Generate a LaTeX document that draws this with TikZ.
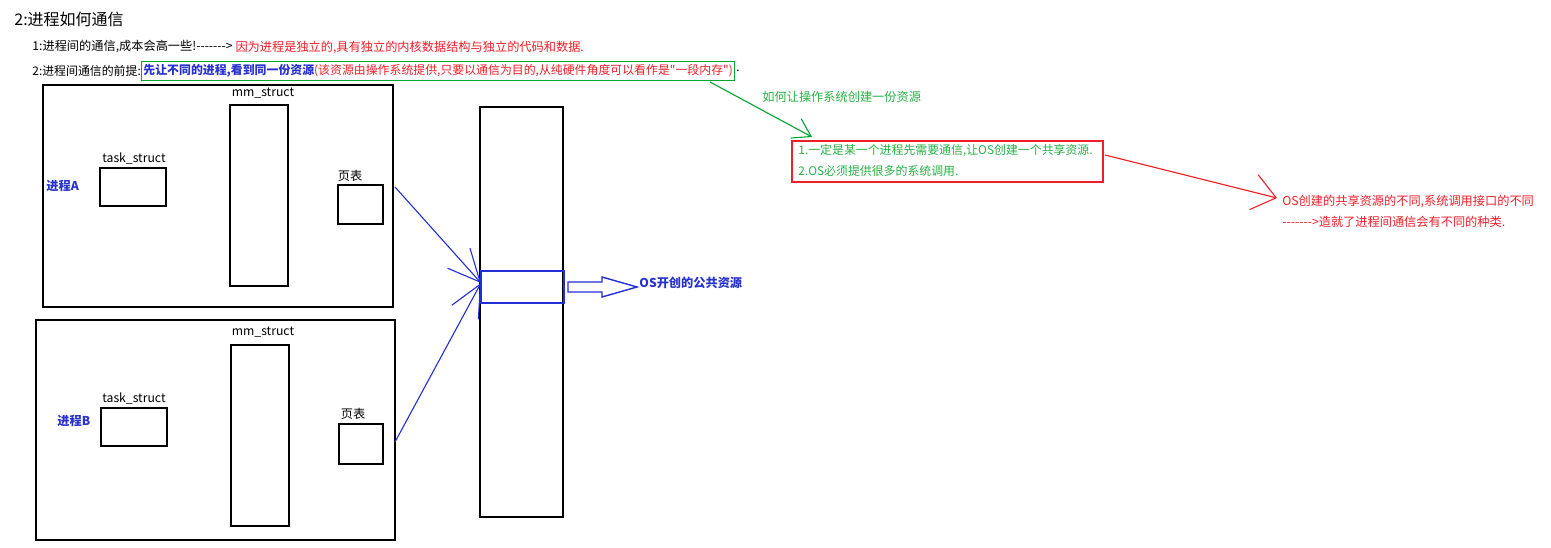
\documentclass[tikz,border=0pt]{standalone}
\usepackage{fontspec}
\newfontfamily\cjk{Noto Sans CJK SC}
\usetikzlibrary{arrows.meta}
\definecolor{pblue}{RGB}{40,50,205}
\definecolor{lblue}{RGB}{35,45,215}
\definecolor{pred}{RGB}{240,30,40}
\definecolor{pgreen}{RGB}{0,165,50}
\definecolor{tgreen}{RGB}{40,175,70}
\begin{document}
\begin{tikzpicture}[x=0.5pt,y=-0.5pt,
  rbox/.style={draw=black, line width=0.6pt, inner sep=0pt},
  txt/.style={inner sep=0pt, font=\cjk\fontsize{6.1pt}{7pt}\selectfont},
  ltxt/.style={txt, anchor=west},
  stxt/.style={ltxt, font=\cjk\fontsize{5.95pt}{7pt}\selectfont},
  bluebold/.style={ltxt, text=pblue, font=\cjk\bfseries\fontsize{6.1pt}{7pt}\selectfont},
  bluearr/.style={draw=lblue, line width=0.55pt, -{Straight Barb[length=16pt,width=15pt]}}
]
\useasboundingbox (0,0) rectangle (1551,547);
% title and text lines
\node[ltxt, font=\cjk\fontsize{8pt}{9pt}\selectfont] (title) at (14,19) {2:进程如何通信};
\node[ltxt] (l1) at (32,47) {1:进程间的通信,成本会高一些!------->};
\node[ltxt, text=pred] (l1r) at ([xshift=1pt]l1.east) {因为进程是独立的,具有独立的内核数据结构与独立的代码和数据.};
\node[stxt] (l2) at (32,71) {2:进程间通信的前提:};
\node[stxt, draw=pgreen, line width=0.6pt, inner xsep=0.8pt, minimum height=9.5pt] (gbox) at (l2.east)
  {{\bfseries\color{pblue}先让不同的进程,看到同一份资源}\textcolor{pred}{(该资源由操作系统提供,只要以通信为目的,从纯硬件角度可以看作是"一段内存")}};
\node[stxt] (dot) at ([xshift=0.5pt]gbox.east) {.};

% process A
\node[rbox, minimum width=175pt, minimum height=111pt] (pA) at (218,196) {};
\node[rbox, minimum width=29pt, minimum height=90.5pt] (mmA) at (259,195.5) {};
\node[txt] (mmAl) at (263,93) {mm\_struct};
\node[rbox, minimum width=33pt, minimum height=19pt] (tkA) at (133,187) {};
\node[txt] (tkAl) at (134,158) {task\_struct};
\node[rbox, minimum width=22.5pt, minimum height=19.5pt] (pgA) at (360.5,204.5) {};
\node[txt] (pgAl) at (350,176) {页表};
\node[bluebold] (nA) at (46,186) {进程A};

% process B
\node[rbox, minimum width=179.5pt, minimum height=110pt] (pB) at (215.5,430) {};
\node[rbox, minimum width=29pt, minimum height=90.5pt] (mmB) at (260,435.5) {};
\node[txt] (mmBl) at (263,332) {mm\_struct};
\node[rbox, minimum width=33pt, minimum height=19pt] (tkB) at (134,427) {};
\node[txt] (tkBl) at (134,398) {task\_struct};
\node[rbox, minimum width=22pt, minimum height=20pt] (pgB) at (361,444) {};
\node[txt] (pgBl) at (353,414) {页表};
\node[bluebold] (nB) at (57,421) {进程B};

% memory column
\node[rbox, minimum width=41.5pt, minimum height=205pt] (mem) at (521.5,312) {};
\node[draw=lblue, line width=0.6pt, inner sep=0pt, minimum width=41.5pt, minimum height=16pt] (shm) at (522.5,287) {};
\coordinate (tip) at (481,283);
\coordinate (aA) at (395,187);
\coordinate (aB) at (395,442);
\draw[bluearr] (aA) -- (tip);
\draw[bluearr] (aB) -- (tip);

% hollow arrow
\coordinate (ha) at (568,287);
\draw[draw=lblue, line width=0.7pt] (ha) ++(0,-5) -- ++(34,0) -- ++(0,-5) -- ++(35,10) -- ++(-35,10) -- ++(0,-5) -- ++(-34,0) -- cycle;
\node[bluebold] (osl) at (639,283) {OS开创的公共资源};

% green arrow and label
\coordinate (g0) at (710,82);
\node[ltxt, text=tgreen] (gl) at (762,97) {如何让操作系统创建一份资源};
\node[draw=pred, line width=0.6pt, inner sep=0pt, minimum width=155.5pt, minimum height=20.5pt] (rb) at (947.5,161.5) {};
\node[stxt, text=tgreen] (rb1) at (798,151) {1.一定是某一个进程先需要通信,让OS创建一个共享资源.};
\node[stxt, text=tgreen] (rb2) at (798,171) {2.OS必须提供很多的系统调用.};
\coordinate (g1) at (812,137);
\draw[draw=pgreen, line width=0.55pt, -{Straight Barb[length=8.6pt,width=11pt]}] (g0) -- (g1);

% red arrow and text
\coordinate (r0) at (1105,155);
\coordinate (r1) at (1277,198);
\draw[draw=pred, line width=0.55pt, -{Straight Barb[length=11.5pt,width=18pt]}] (r0) -- (r1);
\node[ltxt, text=pred] (rt1) at (1282,201) {OS创建的共享资源的不同,系统调用接口的不同};
\node[ltxt, text=pred] (rt2) at (1282,222) {------->造就了进程间通信会有不同的种类.};
\end{tikzpicture}
\end{document}
